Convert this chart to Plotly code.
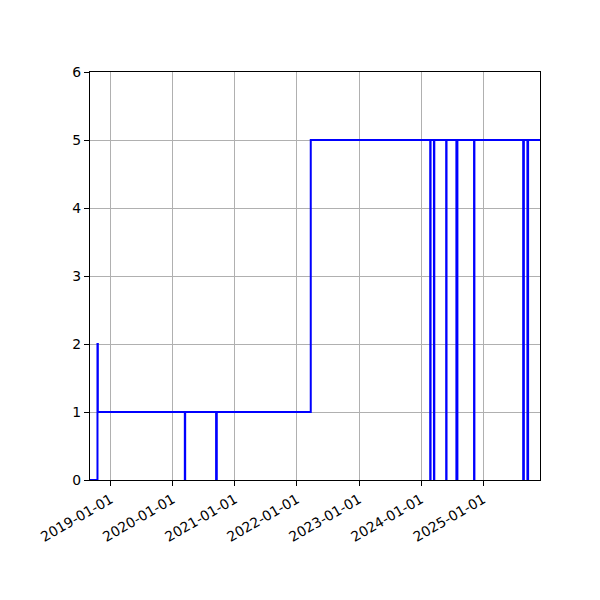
import plotly.graph_objects as go

# Change points of the step series (value holds until next date)
dates = ["2018-09-01", "2018-10-15", "2018-10-17",
         "2020-03-12", "2020-03-14",
         "2020-09-12", "2020-09-16",
         "2022-03-23",
         "2024-02-24", "2024-02-26",
         "2024-03-17", "2024-03-19",
         "2024-05-28", "2024-05-30",
         "2024-07-27", "2024-08-02",
         "2024-11-08", "2024-11-10",
         "2025-08-24", "2025-08-28",
         "2025-09-18", "2025-09-22",
         "2025-12-01"]
values = [0, 2, 1,
          0, 1,
          0, 1,
          5,
          0, 5,
          0, 5,
          0, 5,
          0, 5,
          0, 5,
          0, 5,
          0, 5,
          5]

tick_vals = ["2019-01-01", "2020-01-01", "2021-01-01", "2022-01-01",
             "2023-01-01", "2024-01-01", "2025-01-01"]
y_ticks = [0, 1, 2, 3, 4, 5, 6]

fig = go.Figure()
fig.add_trace(go.Scatter(
    x=dates, y=values, mode="lines",
    line=dict(color="#0000ff", width=2, shape="hv"),
    showlegend=False, hoverinfo="skip",
))

axis_common = dict(
    showgrid=True, gridcolor="#b0b0b0", gridwidth=1.1,
    showline=True, linecolor="black", linewidth=1.1, mirror=True,
    ticks="outside", ticklen=5, tickwidth=1.1, tickcolor="black",
    zeroline=False,
    tickfont=dict(family="DejaVu Sans", size=13.9, color="black"),
)

fig.update_xaxes(
    type="date", range=[dates[0], dates[-1]],
    tickvals=tick_vals, ticktext=tick_vals, tickangle=-30,
    **axis_common,
)
fig.update_yaxes(
    range=[0, 6], tickvals=y_ticks, ticktext=[str(v) for v in y_ticks],
    **axis_common,
)

fig.update_layout(
    width=600, height=600,
    margin=dict(l=82, r=68, t=64, b=128),
    paper_bgcolor="white", plot_bgcolor="white",
    font=dict(family="DejaVu Sans", size=13.9, color="black"),
)

fig.write_html("out.html")
